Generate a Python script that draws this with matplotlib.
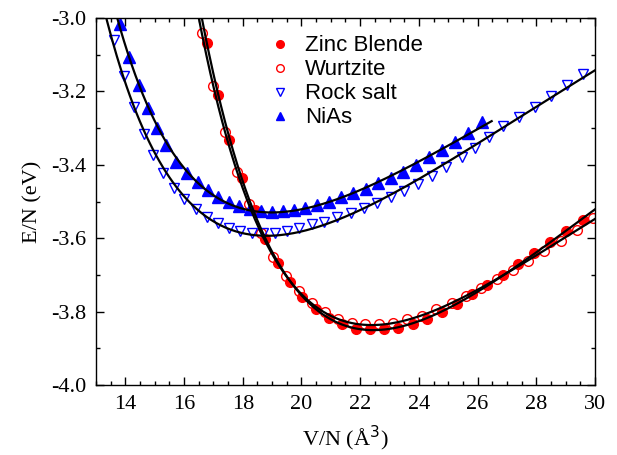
import numpy as np
import matplotlib
matplotlib.use("Agg")
import matplotlib.pyplot as plt
from matplotlib.ticker import MultipleLocator, FormatStrFormatter

plt.rcParams["axes.unicode_minus"] = False

# Data: volume per atom (A^3) and energy per atom (eV)
zb_v = [16.78, 17.16, 17.54, 17.96, 18.42, 18.76, 19.21, 19.61, 20.03, 20.48,
        20.94, 21.39, 21.86, 22.34, 22.82, 23.30, 23.79, 24.29, 24.80, 25.31,
        25.80, 26.33, 26.86, 27.37, 27.92, 28.47, 29.01, 29.60]
zb_e = [-3.068, -3.209, -3.332, -3.435, -3.523, -3.603, -3.668, -3.718, -3.759, -3.793,
        -3.818, -3.835, -3.846, -3.848, -3.847, -3.844, -3.834, -3.821, -3.802, -3.779,
        -3.753, -3.728, -3.700, -3.671, -3.641, -3.611, -3.580, -3.549]

wz_v = [16.61, 17.00, 17.40, 17.79, 18.20, 18.62, 19.04, 19.46, 19.92, 20.35,
        20.80, 21.26, 21.71, 22.17, 22.64, 23.11, 23.58, 24.10, 24.58, 25.12,
        25.61, 26.12, 26.67, 27.20, 27.73, 28.27, 28.84, 29.40, 29.92]
wz_e = [-3.041, -3.186, -3.311, -3.419, -3.508, -3.585, -3.650, -3.702, -3.744, -3.777,
        -3.800, -3.821, -3.832, -3.835, -3.835, -3.830, -3.821, -3.812, -3.794, -3.776,
        -3.757, -3.737, -3.712, -3.687, -3.661, -3.634, -3.607, -3.578, -3.546]

rs_v = [13.62, 13.96, 14.28, 14.62, 14.95, 15.29, 15.66, 16.01, 16.40, 16.77,
        17.15, 17.53, 17.91, 18.30, 18.70, 19.10, 19.50, 19.92, 20.35, 20.78,
        21.20, 21.69, 22.13, 22.58, 23.04, 23.50, 23.96, 24.44, 24.91, 25.46,
        25.91, 26.38, 26.88, 27.42, 27.96, 28.49, 29.04, 29.58]
rs_e = [-3.059, -3.159, -3.243, -3.316, -3.374, -3.423, -3.462, -3.494, -3.520, -3.541,
        -3.558, -3.571, -3.580, -3.585, -3.587, -3.585, -3.580, -3.571, -3.562, -3.555,
        -3.543, -3.532, -3.519, -3.505, -3.489, -3.471, -3.452, -3.431, -3.407, -3.380,
        -3.355, -3.323, -3.294, -3.269, -3.242, -3.213, -3.183, -3.153]

nias_v = [13.82, 14.14, 14.45, 14.76, 15.08, 15.40, 15.73, 16.11, 16.46, 16.83,
          17.17, 17.53, 17.88, 18.25, 18.62, 18.99, 19.36, 19.74, 20.12, 20.52,
          20.94, 21.35, 21.77, 22.20, 22.62, 23.05, 23.47, 23.90, 24.36, 24.78,
          25.23, 25.69, 26.14]
nias_e = [-3.016, -3.107, -3.182, -3.245, -3.300, -3.347, -3.391, -3.421, -3.446, -3.469,
          -3.487, -3.501, -3.512, -3.520, -3.526, -3.528, -3.527, -3.523, -3.518, -3.509,
          -3.500, -3.489, -3.478, -3.466, -3.450, -3.435, -3.419, -3.401, -3.380, -3.360,
          -3.337, -3.314, -3.283]

# volume ranges of the fitted curves
zb_fit_range = (16.3, 30.0)
wz_fit_range = (16.3, 30.0)
rs_fit_range = (13.2, 30.0)
nias_fit_range = (13.7, 26.48)


def eos_fit(v, e, vrange):
    # Birch-Murnaghan form: cubic polynomial in V^(-2/3)
    x = np.asarray(v) ** (-2.0 / 3.0)
    coef = np.polyfit(x, np.asarray(e), 3)
    vv = np.linspace(vrange[0], vrange[1], 300)
    return vv, np.polyval(coef, vv ** (-2.0 / 3.0))


fig = plt.figure(figsize=(6.17, 4.55), dpi=100)
ax = fig.add_axes([0.1556, 0.1538, 0.8087, 0.8066])

for v, e, r in [(zb_v, zb_e, zb_fit_range), (wz_v, wz_e, wz_fit_range),
                (rs_v, rs_e, rs_fit_range), (nias_v, nias_e, nias_fit_range)]:
    vv, ee = eos_fit(v, e, r)
    ax.plot(vv, ee, color="black", lw=1.6, zorder=3)

ax.plot(zb_v, zb_e, "o", color="red", ms=7, mec="red", zorder=2)
ax.plot(wz_v, wz_e, "o", mfc="none", mec="red", ms=7, mew=1.0, zorder=2)
ax.plot(rs_v, rs_e, "v", mfc="none", mec="blue", ms=7.5, mew=1.0, zorder=2)
ax.plot(nias_v, nias_e, "^", color="blue", ms=8, mec="blue", zorder=2)

# legend
leg_labels = ["Zinc Blende", "Wurtzite", "Rock salt", "NiAs"]
leg_style = [dict(marker="o", color="red", mec="red"),
             dict(marker="o", mfc="none", mec="red"),
             dict(marker="v", mfc="none", mec="blue"),
             dict(marker="^", color="blue", mec="blue")]
h = [ax.plot([], [], ls="none", ms=5.5, **s)[0] for s in leg_style]
ax.legend(h, leg_labels, loc="upper left", bbox_to_anchor=(0.306, 1.007),
          frameon=False, handletextpad=0.63, labelspacing=0.135,
          prop={"family": "Liberation Sans", "size": 16}, handlelength=1.0)

ax.set_xlim(13, 30)
ax.set_ylim(-4.0, -3.0)
ax.xaxis.set_major_locator(MultipleLocator(2))
ax.xaxis.set_minor_locator(MultipleLocator(0.5))
ax.yaxis.set_major_locator(MultipleLocator(0.2))
ax.yaxis.set_minor_locator(MultipleLocator(0.1))
ax.yaxis.set_major_formatter(FormatStrFormatter("%.1f"))
ax.tick_params(which="both", direction="in", top=True, right=True, width=1.0)
ax.tick_params(which="major", length=6, pad=7)
ax.tick_params(which="minor", length=3)
for lab in ax.get_xticklabels() + ax.get_yticklabels():
    lab.set_fontfamily("Liberation Serif")
    lab.set_fontsize(16)
for s in ax.spines.values():
    s.set_linewidth(1.0)

ax.set_xlabel("V/N (Å$^3$)", fontfamily="Liberation Serif", fontsize=16, labelpad=7)
ax.set_ylabel("E/N (eV)", fontfamily="Liberation Serif", fontsize=16, labelpad=6)

fig.savefig("out.png", dpi=100)
